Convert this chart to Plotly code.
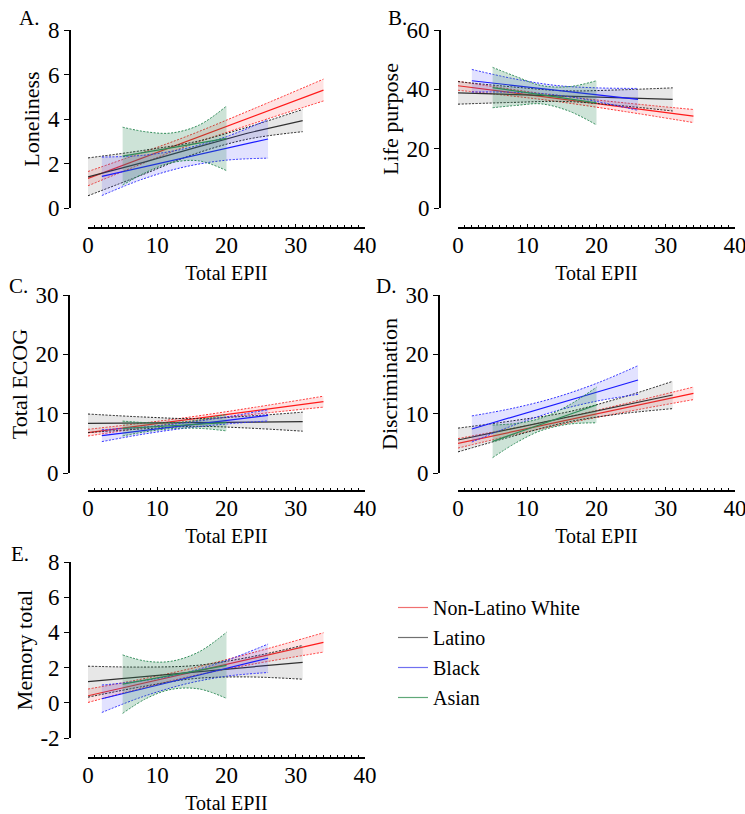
import plotly.graph_objects as go

# ---------------- data ----------------
groups = ["Non-Latino White", "Latino", "Black", "Asian"]
x_nlw = [0, 7, 14, 24, 34]
x_lat = [0, 8, 15.5, 23, 31]
x_blk = [2, 8, 14, 20, 26]
x_asn = [5, 8.5, 12, 16, 20]
x_ticks = [0, 10, 20, 30, 40]
e_yticks = [-2, 0, 2, 4, 6, 8]
e_ytext = ["-2", "0", "2", "4", "6", "8"]

# A. Loneliness
lon_nlw_fit = [1.33, 2.15, 2.97, 4.14, 5.30]
lon_nlw_hi = [1.64, 2.40, 3.19, 4.47, 5.79]
lon_nlw_lo = [1.00, 1.89, 2.75, 3.81, 4.81]
lon_lat_fit = [1.40, 2.05, 2.71, 3.36, 3.93]
lon_lat_hi = [2.25, 2.59, 2.98, 3.63, 4.43]
lon_lat_lo = [0.55, 1.51, 2.44, 3.09, 3.43]
lon_blk_fit = [1.42, 1.84, 2.26, 2.68, 3.10]
lon_blk_hi = [2.29, 2.37, 2.67, 3.21, 3.97]
lon_blk_lo = [0.56, 1.31, 1.85, 2.15, 2.24]
lon_asn_fit = [2.33, 2.52, 2.70, 2.92, 3.13]
lon_asn_hi = [3.63, 3.42, 3.37, 3.72, 4.58]
lon_asn_lo = [1.03, 1.62, 2.03, 2.12, 1.68]

# B. Life purpose
lp_nlw_fit = [41.2, 39.1, 37.0, 34.0, 31.0]
lp_nlw_hi = [42.7, 40.25, 38.0, 35.45, 33.2]
lp_nlw_lo = [39.7, 37.95, 36.0, 32.55, 28.8]
lp_lat_fit = [38.8, 38.2, 37.7, 37.2, 36.6]
lp_lat_hi = [42.6, 40.8, 39.5, 39.8, 40.5]
lp_lat_lo = [35.0, 35.6, 35.9, 34.6, 32.7]
lp_blk_fit = [42.9, 41.3, 39.75, 38.2, 36.6]
lp_blk_hi = [46.7, 43.6, 41.35, 40.5, 40.3]
lp_blk_lo = [39.1, 39.0, 38.15, 35.9, 32.9]
lp_asn_fit = [40.6, 39.4, 38.2, 36.8, 35.45]
lp_asn_hi = [47.4, 44.2, 41.3, 40.9, 42.9]
lp_asn_lo = [33.8, 34.6, 35.1, 32.7, 28.0]

# C. Total ECOG
ec_nlw_fit = [6.80, 7.87, 8.95, 10.48, 12.02]
ec_nlw_hi = [7.36, 8.29, 9.31, 11.06, 12.94]
ec_nlw_lo = [6.24, 7.45, 8.59, 9.90, 11.10]
ec_lat_fit = [8.37, 8.44, 8.51, 8.58, 8.65]
ec_lat_hi = [9.94, 9.44, 9.16, 9.58, 10.25]
ec_lat_lo = [6.80, 7.44, 7.86, 7.58, 7.05]
ec_blk_fit = [6.29, 7.15, 8.00, 8.86, 9.72]
ec_blk_hi = [7.29, 7.75, 8.45, 9.46, 10.67]
ec_blk_lo = [5.29, 6.55, 7.55, 8.26, 8.77]
ec_asn_fit = [7.50, 7.73, 7.97, 8.23, 8.50]
ec_asn_hi = [8.75, 8.48, 8.47, 8.93, 9.90]
ec_asn_lo = [6.25, 6.98, 7.47, 7.53, 7.10]

# D. Discrimination
di_nlw_fit = [5.00, 6.74, 8.47, 10.95, 13.43]
di_nlw_hi = [5.80, 7.34, 8.97, 11.65, 14.49]
di_nlw_lo = [4.20, 6.14, 7.97, 10.25, 12.37]
di_lat_fit = [5.56, 7.52, 9.36, 11.20, 13.15]
di_lat_hi = [7.56, 8.82, 10.21, 12.50, 15.45]
di_lat_lo = [3.56, 6.22, 8.51, 9.90, 10.85]
di_blk_fit = [7.42, 9.48, 11.55, 13.61, 15.67]
di_blk_hi = [9.62, 10.93, 12.70, 15.11, 18.09]
di_blk_lo = [5.22, 8.03, 10.40, 12.11, 13.25]
di_asn_fit = [5.34, 6.77, 8.20, 9.83, 11.46]
di_asn_hi = [8.09, 8.37, 9.25, 11.43, 14.46]
di_asn_lo = [2.59, 5.17, 7.15, 8.23, 8.46]

# E. Memory total
me_nlw_fit = [0.40, 1.02, 1.65, 2.54, 3.43]
me_nlw_hi = [0.78, 1.29, 1.87, 2.87, 3.98]
me_nlw_lo = [0.02, 0.75, 1.43, 2.21, 2.88]
me_lat_fit = [1.20, 1.48, 1.75, 2.02, 2.30]
me_lat_hi = [2.08, 2.03, 2.12, 2.57, 3.26]
me_lat_lo = [0.32, 0.93, 1.38, 1.47, 1.34]
me_blk_fit = [0.23, 0.81, 1.38, 1.96, 2.53]
me_blk_hi = [1.01, 1.26, 1.70, 2.41, 3.34]
me_blk_lo = [-0.55, 0.36, 1.06, 1.51, 1.72]
me_asn_fit = [1.06, 1.31, 1.56, 1.84, 2.13]
me_asn_hi = [2.72, 2.36, 2.36, 2.89, 4.01]
me_asn_lo = [-0.60, 0.26, 0.76, 0.79, 0.25]

# ---------------- styling ----------------
W, H = 745, 814
FONT = "Liberation Serif"
line_col = {"Non-Latino White": "#ff1a1a", "Latino": "#303030",
            "Black": "#1a1aff", "Asian": "#2e8b57"}
dash_col = {"Non-Latino White": "#ff3030", "Latino": "#202020",
            "Black": "#3030ff", "Asian": "#2e8b57"}
fill_col = {"Non-Latino White": "rgba(255,60,60,0.14)", "Latino": "rgba(120,120,120,0.18)",
            "Black": "rgba(60,60,255,0.15)", "Asian": "rgba(46,139,87,0.24)"}
legend_col = {"Non-Latino White": "#f07070", "Latino": "#707070",
              "Black": "#7070f0", "Asian": "#60a878"}


def px(v):
    return v / W


def py(v):
    return 1 - v / H


panels = [
    dict(letter="A.", ytitle="Loneliness", yr=[0, 8], dt=2,
         xdom=(88, 365), yax=70, ydom=(208, 30), xax=228, lpos=(18, 5),
         data={"Non-Latino White": (x_nlw, lon_nlw_fit, lon_nlw_lo, lon_nlw_hi),
               "Latino": (x_lat, lon_lat_fit, lon_lat_lo, lon_lat_hi),
               "Black": (x_blk, lon_blk_fit, lon_blk_lo, lon_blk_hi),
               "Asian": (x_asn, lon_asn_fit, lon_asn_lo, lon_asn_hi)}),
    dict(letter="B.", ytitle="Life purpose", yr=[0, 60], dt=20,
         xdom=(458, 735), yax=440, ydom=(208, 30), xax=228, lpos=(387, 5),
         data={"Non-Latino White": (x_nlw, lp_nlw_fit, lp_nlw_lo, lp_nlw_hi),
               "Latino": (x_lat, lp_lat_fit, lp_lat_lo, lp_lat_hi),
               "Black": (x_blk, lp_blk_fit, lp_blk_lo, lp_blk_hi),
               "Asian": (x_asn, lp_asn_fit, lp_asn_lo, lp_asn_hi)}),
    dict(letter="C.", ytitle="Total ECOG", yr=[0, 30], dt=10,
         xdom=(88, 365), yax=69, ydom=(473, 295), xax=491, lpos=(8, 273),
         data={"Non-Latino White": (x_nlw, ec_nlw_fit, ec_nlw_lo, ec_nlw_hi),
               "Latino": (x_lat, ec_lat_fit, ec_lat_lo, ec_lat_hi),
               "Black": (x_blk, ec_blk_fit, ec_blk_lo, ec_blk_hi),
               "Asian": (x_asn, ec_asn_fit, ec_asn_lo, ec_asn_hi)}),
    dict(letter="D.", ytitle="Discrimination", yr=[0, 30], dt=10,
         xdom=(458, 735), yax=439, ydom=(473, 295), xax=491, lpos=(375, 273),
         data={"Non-Latino White": (x_nlw, di_nlw_fit, di_nlw_lo, di_nlw_hi),
               "Latino": (x_lat, di_lat_fit, di_lat_lo, di_lat_hi),
               "Black": (x_blk, di_blk_fit, di_blk_lo, di_blk_hi),
               "Asian": (x_asn, di_asn_fit, di_asn_lo, di_asn_hi)}),
    dict(letter="E.", ytitle="Memory total", yr=[-2, 8], dt=2,
         xdom=(88, 365), yax=70, ydom=(738, 562), xax=758, lpos=(10, 541),
         yticks=(e_yticks, e_ytext),
         data={"Non-Latino White": (x_nlw, me_nlw_fit, me_nlw_lo, me_nlw_hi),
               "Latino": (x_lat, me_lat_fit, me_lat_lo, me_lat_hi),
               "Black": (x_blk, me_blk_fit, me_blk_lo, me_blk_hi),
               "Asian": (x_asn, me_asn_fit, me_asn_lo, me_asn_hi)}),
]

fig = go.Figure()
layout = {}
annotations = []

for i, p in enumerate(panels):
    n = i + 1
    xa, ya = f"x{n}", f"y{n}"
    for g in groups:
        xs, fit, lo, hi = p["data"][g]
        fig.add_trace(go.Scatter(x=xs, y=hi, xaxis=xa, yaxis=ya, mode="lines",
                                 line=dict(color=dash_col[g], width=1, dash="2px,1.5px", shape="spline"),
                                 showlegend=False, hoverinfo="skip"))
        fig.add_trace(go.Scatter(x=xs, y=lo, xaxis=xa, yaxis=ya, mode="lines",
                                 line=dict(color=dash_col[g], width=1, dash="2px,1.5px", shape="spline"),
                                 fill="tonexty", fillcolor=fill_col[g],
                                 showlegend=False, hoverinfo="skip"))
        fig.add_trace(go.Scatter(x=xs, y=fit, xaxis=xa, yaxis=ya, mode="lines", name=g,
                                 line=dict(color=line_col[g], width=1.2),
                                 showlegend=False))
    tickfont = dict(family=FONT, size=23, color="black")
    layout[f"xaxis{n}"] = dict(
        domain=[px(p["xdom"][0]), px(p["xdom"][1])], anchor="free", position=py(p["xax"]),
        range=[0, 40], tickvals=x_ticks, ticks="inside", ticklen=3, tickwidth=1.2,
        tickcolor="black", automargin=False, ticklabeloverflow="allow",
        minor=dict(dtick=1, tick0=0, ticks="inside", ticklen=2, tickcolor="black", tickwidth=1),
        showline=True, linecolor="black", linewidth=1.6, showgrid=False, zeroline=False,
        tickfont=tickfont, ticklabelstandoff=-3,
        title=dict(text="Total EPII", font=dict(family=FONT, size=20, color="black"), standoff=8))
    yaxis = dict(
        domain=[py(p["ydom"][0]), py(p["ydom"][1])], anchor="free", position=px(p["yax"]),
        range=p["yr"], dtick=p["dt"], tick0=0, ticks="outside", ticklen=5, tickwidth=1.2,
        tickcolor="black", showline=True, linecolor="black", linewidth=1.6, automargin=False,
        showgrid=False, zeroline=False, tickfont=tickfont, ticklabeloverflow="allow",
        title=dict(text=p["ytitle"], font=dict(family=FONT, size=22, color="black"), standoff=1))
    if "yticks" in p:
        yaxis.update(tickmode="array", tickvals=p["yticks"][0], ticktext=p["yticks"][1])
    layout[f"yaxis{n}"] = yaxis
    annotations.append(dict(text=p["letter"], x=px(p["lpos"][0]), y=py(p["lpos"][1]),
                            xref="paper", yref="paper", xanchor="left", yanchor="top",
                            borderpad=0, showarrow=False,
                            font=dict(family=FONT, size=21, color="black")))

# legend entries (style only)
for g in groups:
    fig.add_trace(go.Scatter(x=[None], y=[None], xaxis="x1", yaxis="y1", mode="lines",
                             name=g, line=dict(color=legend_col[g], width=1.2),
                             legendgroup=g, showlegend=True))

fig.update_layout(
    width=W, height=H, margin=dict(l=0, r=0, t=0, b=0, autoexpand=False),
    paper_bgcolor="white", plot_bgcolor="white",
    font=dict(family=FONT, color="black"),
    annotations=annotations,
    legend=dict(x=px(393), y=py(588), xanchor="left", yanchor="top",
                font=dict(family=FONT, size=20, color="black"),
                traceorder="grouped", tracegroupgap=1, itemwidth=30,
                bgcolor="rgba(0,0,0,0)"),
    **layout,
)

fig.write_html("out.html", config={"displayModeBar": False},
               post_script="document.body.style.margin='0px';document.body.style.overflow='hidden';")
